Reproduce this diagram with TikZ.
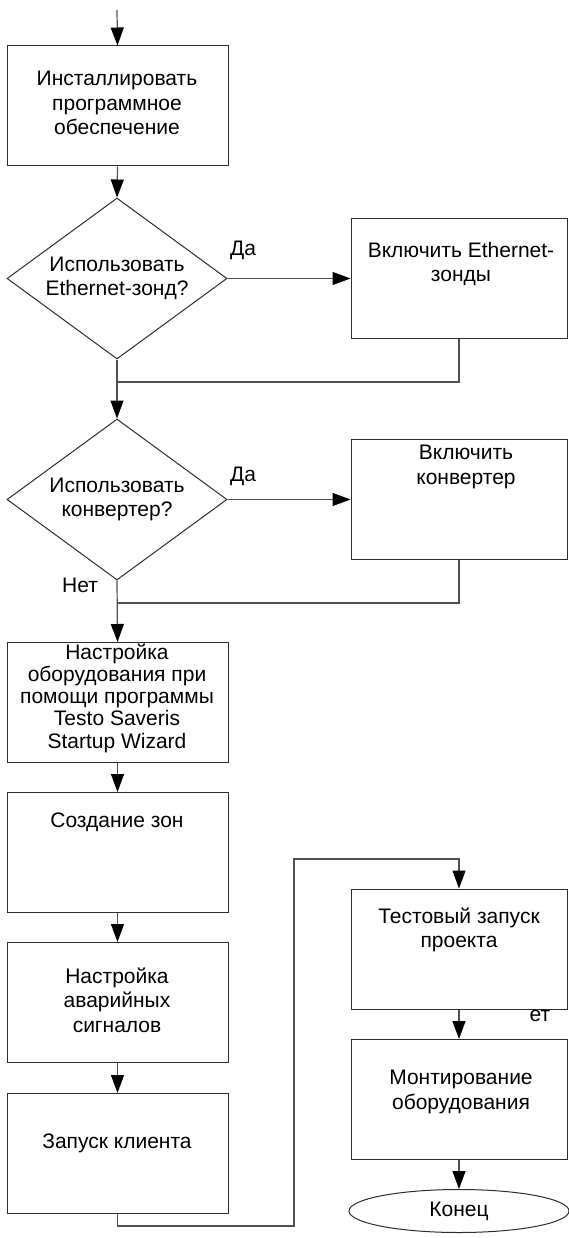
\documentclass[tikz,border=0pt]{standalone}
\usepackage{fontspec}
\setmainfont{Liberation Sans}
\usetikzlibrary{arrows.meta,shapes.geometric}
\definecolor{ink}{RGB}{45,45,45}
\definecolor{wire}{RGB}{80,80,80}

\begin{document}
\begin{tikzpicture}[x=1pt, y=-1pt,
    blk/.style={rectangle, draw=ink, line width=1pt, minimum width=221pt,
                minimum height=120pt, inner sep=0pt},
    rblk/.style={blk, minimum width=216pt},
    dec/.style={diamond, draw=ink, line width=1pt, aspect=1.37,
                minimum width=220pt, minimum height=161pt, inner sep=0pt,
                align=center, font=\txt},
    term/.style={ellipse, draw=ink, line width=1pt, minimum width=220pt,
                 minimum height=43pt, inner sep=0pt, font=\txt},
    txt/.style={align=center, font=\txt, inner sep=0pt},
    lab/.style={font=\txt, inner sep=0pt},
    wire/.style={draw=wire, line width=1.2pt},
    flow/.style={wire, -{Triangle[length=18pt,width=13pt,color=black]}}]
  \def\txt{\fontsize{21}{24.5}\selectfont}
  \useasboundingbox (0,0) rectangle (568,1238);
  % --- left column -------------------------------------------------------
  \node[blk] (b1) at (117.5,106)    {};
  \node[dec] (d1) at (117,278.5)    {Использовать\\Ethernet-зонд?};
  \node[dec] (d2) at (117,499.5)    {Использовать\\конвертер?};
  \node[blk] (b4) at (117.5,702.5)  {};
  \node[blk] (b5) at (117.5,852.5)  {};
  \node[blk] (b6) at (117.5,1002.5) {};
  \node[blk] (b7) at (117.5,1153.5) {};
  % --- right column ------------------------------------------------------
  \node[rblk] (b2) at (459,278.5)  {};
  \node[rblk] (b3) at (459,499.5)  {};
  \node[rblk] (b8) at (459,949)    {};
  \node[rblk] (b9) at (459,1099.5) {};
  \node[term] (end) at (459,1211)  {Конец};
  % --- box texts ---------------------------------------------------------
  \node[txt] (t1) at (117,103)  {Инсталлировать\\программное\\обеспечение};
  \node[txt] (t2) at (461,264)  {Включить Ethernet-\\зонды};
  \node[txt] (t3) at (466,467)  {Включить\\конвертер};
  \node[txt, font=\fontsize{21}{22.3}\selectfont] (t4) at (117,698)
    {Настройка\\оборудования при\\помощи программы\\Testo Saveris\\Startup Wizard};
  \node[txt] (t5) at (117,822)  {Создание зон};
  \node[txt] (t6) at (117,1000) {Настройка\\аварийных\\сигналов};
  \node[txt] (t7) at (117,1143) {Запуск клиента};
  \node[txt] (t8) at (459,930)  {Тестовый запуск\\проекта};
  \node[txt] (t9) at (461,1092) {Монтирование\\оборудования};
  \node[lab] (yes1) at (243,250)  {Да};
  \node[lab] (yes2) at (243,476)  {Да};
  \node[lab] (no2)  at (80,585)   {Нет};
  \node[lab] (no3)  at (540,1016) {ет};
  % --- connectors --------------------------------------------------------
  \coordinate (in) at (117,10);
  \coordinate (j1) at (117,382);
  \coordinate (j2) at (117,603);
  \coordinate (r1) at (294,1226);
  \coordinate (r2) at (294,859);
  \draw[flow] (in) -- (b1.north);
  \draw[flow] (b1.south) -- (d1.north);
  \draw[flow] (d1.east) -- (b2.west);
  \draw[wire] (b2.south) |- (j1);
  \draw[flow] (d1.south) -- (d2.north);
  \draw[flow] (d2.east) -- (b3.west);
  \draw[wire] (b3.south) |- (j2);
  \draw[flow] (d2.south) -- (b4.north);
  \draw[flow] (b4.south) -- (b5.north);
  \draw[flow] (b5.south) -- (b6.north);
  \draw[flow] (b6.south) -- (b7.north);
  \draw[flow] (b7.south) |- (r1) -- (r2) -| (b8.north);
  \draw[flow] (b8.south) -- (b9.north);
  \draw[flow] (b9.south) -- (end.north);
\end{tikzpicture}
\end{document}
